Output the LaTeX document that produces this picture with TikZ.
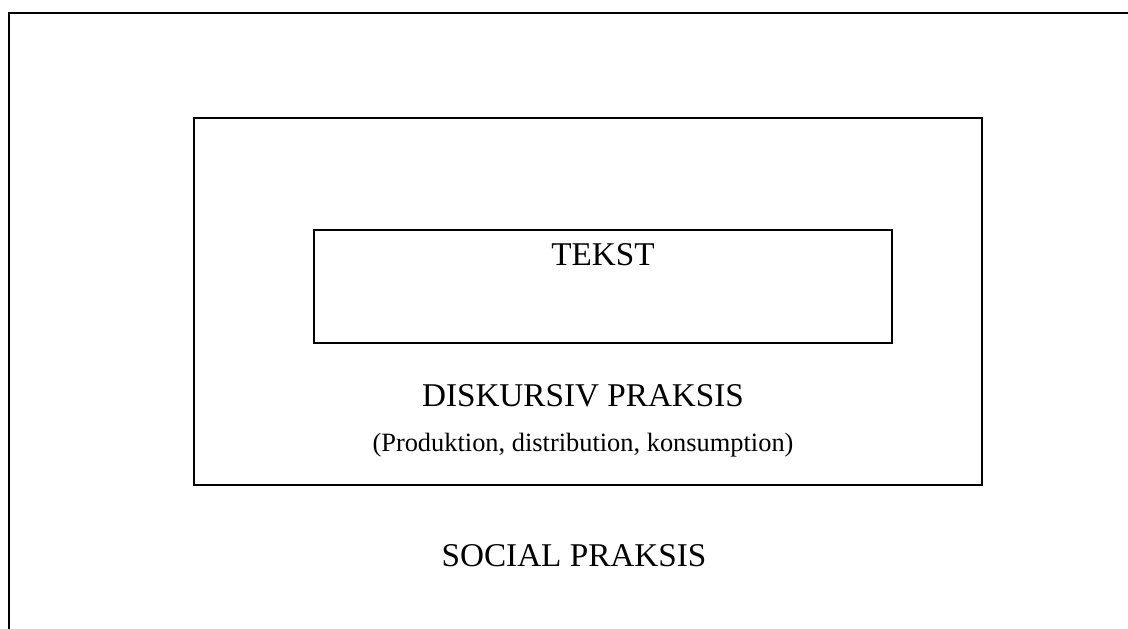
\documentclass[tikz,border=0pt]{standalone}
\usepackage{fontspec}
\setmainfont{Liberation Serif}
\usepackage{tikz}
\usetikzlibrary{positioning}
\tikzset{
  layerbox/.style={rectangle, draw=black, line width=1pt, inner sep=0pt, fill=none},
  layertitle/.style={anchor=base, inner sep=0pt, font=\fontsize{16.6}{19}\selectfont},
  layersub/.style={anchor=base, inner sep=0pt, font=\fontsize{13.2}{15}\selectfont},
}
\begin{document}
\begin{tikzpicture}[x=0.5pt, y=-0.5pt]
  \useasboundingbox (0,0) rectangle (1128,628);
  \clip (0,0) rectangle (1128,628);
  % three nested layers, outer one runs off the page
  \node[layerbox, minimum width=565.5pt, minimum height=313.5pt] (social) at (574.5,326.5) {};
  \node[layerbox, minimum width=394pt, minimum height=183.6pt] (diskurs) at (588,301.7) {};
  \node[layerbox, minimum width=289pt, minimum height=56.4pt] (tekst) at (603,286.4) {};
  % labels
  \node[layertitle] (tekstlbl) at (603,265.7) {TEKST};
  \node[layertitle] (diskurslbl) at (583,406) {DISKURSIV PRAKSIS};
  \node[layersub] (diskurssub) at (583,451) {(Produktion, distribution, konsumption)};
  \node[layertitle] (sociallbl) at (574,566) {SOCIAL PRAKSIS};
\end{tikzpicture}
\end{document}
